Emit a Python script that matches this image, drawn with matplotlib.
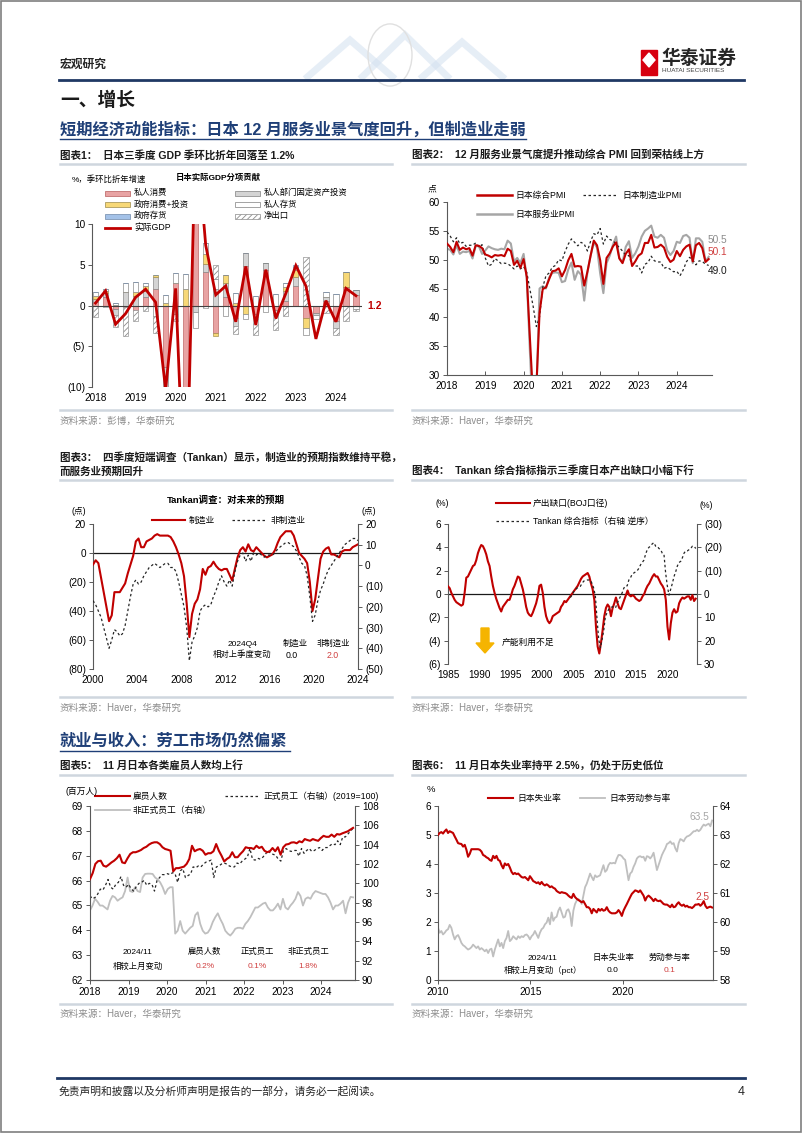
import numpy as np
import matplotlib
matplotlib.use('Agg')
import matplotlib.pyplot as plt
from matplotlib.patches import Rectangle, Polygon, Circle
from matplotlib.ticker import FuncFormatter

# ---------------- data ----------------
# 图表1: 日本实际GDP (季环比折年, %) 及分项贡献, 2018Q1-2024Q3
gdp_years = ['2018', '2019', '2020', '2021', '2022', '2023', '2024']
gdp = [0.3, 1.8, -2.3, -1.0, 1.0, 2.0, 0.4, -10.3, 2.1, -28.0, 22.0, 7.4, 1.3, 2.4,
       -2.0, 4.8, -2.4, 4.4, -1.6, 1.5, 4.9, 2.4, -4.1, 0.6, -2.0, 2.1, 1.2]
c_cons = [0.4, 1.1, -0.4, -0.2, -0.6, 1.0, 2.0, -7.5, 2.8, -19.0, 15.5, 4.1, -3.4, 1.0,
          -1.5, 4.8, -1.0, 4.4, -0.6, 0.6, 2.4, -1.5, -0.9, 0.5, -1.9, 2.3, 1.3]
c_fixed = [0.4, 0.4, -0.8, 1.7, 1.2, 0.8, 1.5, -2.8, -1.0, -5.0, -0.8, 1.0, 2.0, 1.7,
           -1.0, 1.7, -0.4, 0.8, -0.3, 1.2, 1.1, 0.0, -0.3, 0.5, -0.8, 0.0, 0.6]
c_gov = [0.4, 0.3, 0.1, 0.0, 0.5, 0.6, 0.3, 0.3, 0.0, 2.0, 0.5, 1.2, -0.3, 1.0,
         0.3, -1.1, 0.0, 0.0, 0.0, 0.5, 0.8, -1.2, 0.0, 0.0, 0.0, 1.8, 0.0]
c_privinv = [0.5, 0.2, 0.2, 1.0, 1.2, 0.3, -1.3, 1.0, 1.2, 1.9, -2.0, 1.4, 1.3, -1.3,
             1.2, -0.6, 1.2, -0.8, 1.4, 0.5, 0.4, -0.9, -0.5, 0.6, 1.4, 0.0, -0.4]
c_govinv = [0.0] * 20 + [0.3] + [0.0] * 6
c_netexp = [-1.4, -0.2, -1.4, -3.5, -1.3, -0.7, -2.1, -1.3, -0.9, -7.9, 8.8, -0.3, 1.7, 0.0,
            -1.0, 0.0, -2.2, 0.0, -2.1, -1.3, -0.1, 6.0, 0.0, -0.9, -0.9, -1.9, -0.3]

# 图表2: 日本PMI, 2018/01-2024/11
pmi_comp = [52.8, 52.2, 51.3, 53.1, 51.7, 52.1, 51.8, 52.0, 50.7, 52.5, 52.4, 52.0,
            50.9, 50.7, 50.4, 50.8, 50.7, 50.8, 50.6, 51.9, 51.5, 49.1, 49.8, 48.6,
            50.1, 47.0, 36.2, 25.8, 27.8, 40.8, 44.9, 45.2, 46.6, 48.0, 48.1, 48.5,
            47.1, 48.2, 49.9, 51.0, 48.8, 48.9, 48.8, 45.5, 47.9, 50.7, 53.3, 52.5,
            49.9, 45.8, 50.3, 51.1, 52.3, 53.0, 50.2, 49.4, 51.0, 51.8, 48.9, 49.7,
            50.7, 51.1, 52.9, 52.9, 54.3, 52.1, 52.2, 52.6, 52.1, 50.5, 49.6, 50.0,
            51.5, 50.6, 51.7, 52.3, 52.6, 49.7, 52.5, 52.9, 52.0, 49.6, 50.1]
pmi_serv = [51.9, 51.7, 50.9, 52.5, 51.0, 51.4, 51.3, 51.5, 50.2, 52.4, 52.3, 51.0,
            51.6, 52.3, 52.0, 51.8, 51.7, 51.9, 51.8, 53.3, 52.8, 49.7, 50.3, 49.4,
            51.0, 46.8, 33.8, 21.5, 26.5, 45.0, 45.4, 45.0, 46.9, 47.7, 47.8, 47.7,
            46.1, 46.3, 48.3, 49.5, 46.5, 48.0, 47.4, 42.9, 47.8, 50.7, 53.0, 52.1,
            47.6, 44.2, 49.4, 50.7, 52.6, 54.0, 50.3, 49.5, 52.2, 53.2, 50.3, 51.1,
            52.3, 54.0, 55.0, 55.4, 55.9, 54.0, 53.8, 54.3, 53.8, 51.6, 50.8, 51.5,
            53.1, 52.9, 54.1, 54.3, 53.8, 49.4, 53.7, 53.7, 53.1, 49.7, 50.5]
pmi_mfg = [54.8, 54.1, 53.1, 53.8, 52.8, 53.0, 52.3, 52.5, 52.5, 52.9, 52.2, 52.6,
           50.3, 48.9, 49.2, 50.2, 49.8, 49.3, 49.4, 49.3, 48.9, 48.4, 48.9, 48.4,
           48.8, 47.8, 44.8, 41.9, 38.4, 40.1, 45.2, 47.2, 47.7, 48.7, 49.0, 50.0,
           49.8, 51.4, 52.7, 53.6, 53.0, 52.4, 53.0, 52.7, 51.5, 53.2, 54.5, 54.3,
           55.4, 52.7, 54.1, 53.5, 53.3, 52.7, 52.1, 51.5, 50.8, 50.7, 49.0, 48.9,
           48.9, 47.7, 49.2, 49.5, 50.6, 49.8, 49.6, 49.6, 48.5, 48.7, 48.3, 47.9,
           48.0, 47.2, 48.2, 49.6, 50.4, 50.0, 49.1, 49.8, 49.7, 49.2, 49.0]

# 图表3: Tankan 预期DI, 2000Q1-2024Q4
tk_mfg = [-8, -5, -7, -17, -27, -37, -47, -43, -27, -27, -27, -24, -21, -14, -8, -2,
          8, 10, 4, 4, 8, 9, 10, 12, 13, 12, 12, 12, 12, 11, 8, 4,
          -1, -7, -16, -35, -58, -42, -35, -32, -25, -11, -15, -10, -9, -6, -9, -11,
          -12, -11, -11, -15, -19, -11, -3, 2, 4, 1, 6, 2, 1, 4,
          2, 0, -2, -3, -2, -1, 2, 7, 11, 13, 15, 15, 15, 12,
          6, 0, -2, -4, -7, -20, -40, -32, -18, -4, 1, 3, 4, -1, -1, -2,
          -3, 1, 2, 2, 2, 4, 5, 6]
tk_nonmfg = [-17, -19, -22, -25, -30, -35, -40, -36, -31, -32, -34, -33, -29, -22, -15, -9,
             -7, -9, -8, -5, -3, -1, 0, 1, 0, -1, 0, 1, 1, -1, -1, -3,
             -8, -14, -20, -30, -46, -37, -34, -30, -22, -20, -19, -20, -19, -15, -12, -8,
             -5, -8, -10, -7, -10, -3, 2, 5, 6, 2, 5, 2, 6, 5,
             6, 5, 4, 5, 5, 5, 6, 8, 9, 10, 11, 11, 10, 9,
             7, 4, 1, 0, -5, -15, -27, -24, -17, -12, -9, -5, -2, 0, 2, 4,
             6, 8, 10, 11, 12, 13, 13, 12]

# 图表4: 产出缺口 (1985-2024Q3) 与 Tankan 综合指标 (2004H2-)
gap = [0.66, 0.5, 0.1, -0.2, -0.5, -0.7, -0.8, -0.9, -1.0, -0.9, 0.1, 1.4, 1.5, 1.8, 2.1, 2.4,
       2.5, 2.9, 3.5, 3.9, 4.2, 4.1, 3.8, 3.4, 2.8, 2.4, 1.5, 0.7, 0.1, -0.4, -0.8, -1.2,
       -1.5, -1.1, -0.9, -0.7, -0.5, -0.5, -0.1, 0.4, 0.7, 1.1, 1.5, 1.4, 0.9, 0.4, -0.3, -1.1,
       -1.6, -1.8, -1.9, -1.6, -1.2, -0.8, -0.2, 0.7, 0.8, 0.1, -1.1, -1.9, -2.3, -2.5, -2.3, -1.9,
       -1.8, -1.7, -1.6, -1.5, -1.1, -0.9, -0.6, -0.7, -0.5, -0.3, -0.1, 0.1, 0.3, 0.5, 0.7, 1.0,
       1.3, 1.5, 1.6, 1.7, 1.8, 1.5, 0.9, 0.4, -0.5, -2.8, -4.5, -5.1, -4.2, -3.1, -1.9, -1.2,
       -0.9, -1.1, -1.9, -1.2, -0.8, -0.3, -0.8, -1.2, -1.3, -0.9, -0.5, -0.1, 0.3, -0.1, -0.2, -0.1,
       -0.2, -0.4, -0.5, -0.6, -0.5, -0.2, 0.0, 0.4, 0.7, 0.9, 1.2, 1.5, 1.7, 1.5, 1.5, 1.2,
       0.9, 0.7, 0.4, -0.5, -2.8, -3.9, -2.5, -1.6, -1.3, -1.6, -1.5, -0.8, -0.5, -0.3, -0.4, -0.3,
       -0.2, -0.2, -0.5, -0.1, -0.6, -0.4]
tankan_comp = [1.5, 0.5, -1.0, -1.8, -2.5, -3.0, -3.3, -4.5, -5.5, -5.8, -6.0, -6.0, -6.0, -4.5, -2.5, 1.0,
               11, 19.5, 23, 19.5, 15.5, 9.5, 8, 6.5, 6, 5.5, 5.5, 6, 4, 2.5, 1, -0.5,
               -2.5, -3.5, -3.5, -6, -7, -8.5, -9, -9.5, -10, -11, -12.5, -13.5, -14.5, -17, -19, -20,
               -20.5, -21.5, -22, -20.5, -20.5, -19.5, -19, -17.5, -17, -9, -3.5, 0.5, -2, -4.5,
               -7.5, -9.5, -12, -13.5, -14, -15.5, -17.5, -18.5, -18.5, -19, -19.5, -20.5, -20.5, -19.5]

# 图表5: 雇员人数 (百万人, 左) / 正式与非正式员工 (2019=100, 右), 2018/01-2024/11
employees = [66.06, 66.3, 66.67, 66.78, 66.8, 66.6, 66.56, 66.64, 66.73, 66.8, 66.9, 67.04,
             66.73, 66.7, 66.9, 67.07, 67.14, 67.14, 67.18, 67.23, 67.31, 67.36, 67.45, 67.51,
             67.54, 67.54, 67.47, 67.34, 67.27, 67.24, 67.2, 66.37, 66.5, 66.5, 66.53, 66.56,
             66.67, 66.87, 67.4, 67.18, 67.24, 67.27, 67.2, 67.04, 67.1, 67.1, 67.18, 67.47,
             67.2, 67.0, 66.77, 66.87, 66.94, 67.14, 66.94, 66.94, 67.07, 67.18, 67.34, 67.31,
             67.31, 67.27, 67.4, 67.31, 67.36, 67.2, 67.14, 67.18, 67.31, 67.18, 67.34, 67.04,
             67.34, 67.45, 67.47, 67.53, 67.54, 67.5, 67.58, 67.54, 67.67, 67.63, 67.6, 67.67,
             67.63, 67.6, 67.71, 67.8, 67.76, 67.76, 67.85, 67.76, 67.87, 67.85, 67.9, 67.94,
             67.98, 68.05, 68.12]
regular = [98.7, 98.4, 98.55, 98.9, 99.4, 99.3, 99.8, 100.4, 99.6, 99.4, 99.9, 100.1,
           100.7, 99.8, 99.6, 99.9, 99.4, 99.2, 99.7, 100.0, 100.1, 100.3, 99.8, 100.0,
           99.9, 99.2, 100.3, 100.6, 100.9, 100.9, 101.0, 100.9, 101.1, 100.97, 100.1, 101.3,
           101.5, 100.6, 100.8, 100.97, 101.7, 101.6, 101.8, 101.7, 102.0, 102.2, 102.3, 102.4,
           100.6, 101.7, 101.8, 102.0, 102.1, 102.0, 101.8, 101.7, 101.7, 102.1, 102.0, 102.3,
           102.5, 102.7, 103.6, 102.5, 102.4, 102.6, 102.5, 102.7, 103.0, 103.4, 103.1, 103.0,
           102.9, 102.5, 102.3, 103.4, 103.6, 103.4, 103.3, 103.4, 103.4, 102.8, 103.6, 103.1,
           103.4, 103.6, 103.3, 103.4, 103.6, 103.7, 103.4, 103.7, 103.7, 103.9, 104.1, 104.0,
           104.4, 104.0, 104.8, 104.8, 105.1, 105.4, 105.7]
nonregular = [97.2, 97.7, 98.4, 98.1, 97.7, 97.7, 97.5, 97.3, 98.2, 98.7, 98.55, 98.2,
              98.4, 98.55, 99.2, 100.6, 99.2, 99.1, 99.6, 99.2, 99.1, 100.6, 100.97, 101.0,
              101.0, 100.97, 100.6, 100.4, 100.1, 99.6, 98.9, 99.4, 99.6, 99.6, 94.8, 95.1,
              96.1, 95.1, 94.8, 95.1, 95.4, 95.6, 96.7, 97.0, 95.8, 95.1, 94.8, 94.9,
              95.3, 96.0, 96.5, 96.9, 96.3, 95.8, 95.1, 94.8, 94.6, 94.9, 95.3, 95.4,
              95.4, 95.3, 95.8, 96.1, 96.5, 97.0, 97.5, 97.5, 97.7, 97.9, 98.0, 97.5,
              97.2, 97.2, 97.5, 97.9, 97.3, 98.4, 97.5, 97.3, 97.7, 98.0, 98.4, 99.1,
              98.7, 97.7, 98.4, 98.55, 98.4, 98.9, 99.2, 99.1, 99.0, 98.9, 98.9, 98.55,
              98.0, 97.3, 97.7, 97.7, 97.9, 98.2, 96.9, 98.0, 98.6, 98.55]

# 图表6: 日本失业率 (%, 左) / 劳动参与率 (%, 右), 2010/01-2024/11
unemp = [5.0, 5.07, 5.1, 5.05, 5.13, 5.19, 5.07, 5.13, 5.1, 5.07, 4.95, 4.84, 4.72, 4.7, 4.69, 4.6,
         4.66, 4.49, 4.25, 4.35, 4.51, 4.51, 4.51, 4.51, 4.51, 4.49, 4.43, 4.31, 4.28, 4.23, 4.2, 4.14,
         4.11, 4.28, 4.2, 4.28, 4.14, 4.11, 3.96, 3.85, 4.02, 3.96, 4.0, 3.88, 3.73, 3.65, 3.69, 3.65,
         3.67, 3.61, 3.55, 3.53, 3.55, 3.5, 3.44, 3.58, 3.5, 3.41, 3.38, 3.34, 3.37, 3.3, 3.38, 3.3,
         3.26, 3.3, 3.26, 3.2, 3.23, 3.18, 3.15, 3.07, 3.03, 3.0, 3.03, 3.01, 3.0, 2.97, 2.91, 2.86,
         2.83, 2.97, 2.86, 2.8, 2.76, 2.72, 2.68, 2.72, 2.62, 2.51, 2.51, 2.45, 2.3, 2.45, 2.39, 2.33,
         2.45, 2.39, 2.45, 2.39, 2.41, 2.51, 2.39, 2.33, 2.3, 2.3, 2.3, 2.33, 2.41, 2.33, 2.21, 2.39,
         2.51, 2.62, 2.74, 2.86, 2.97, 3.03, 3.09, 3.07, 3.03, 3.09, 3.0, 2.91, 2.74, 2.86, 2.91, 2.86,
         2.8, 2.72, 2.8, 2.74, 2.72, 2.74, 2.68, 2.62, 2.6, 2.6, 2.56, 2.51, 2.6, 2.51, 2.53, 2.62,
         2.68, 2.6, 2.56, 2.6, 2.53, 2.56, 2.51, 2.51, 2.48, 2.53, 2.6, 2.6, 2.62, 2.56, 2.62, 2.72,
         2.56, 2.48, 2.51, 2.53, 2.5]
lfpr = [59.8, 59.63, 59.69, 59.57, 59.63, 59.71, 59.75, 59.9, 59.8, 59.57, 59.4, 59.51, 59.55, 59.43, 59.28, 59.2,
        59.16, 59.1, 59.05, 59.08, 59.13, 59.22, 59.16, 59.1, 59.16, 59.05, 59.1, 59.05, 58.99, 59.05, 58.93, 59.05,
        59.08, 58.81, 59.05, 59.22, 59.4, 59.16, 59.28, 59.1, 59.34, 59.45, 59.69, 59.34, 59.4, 59.51, 59.45, 59.4,
        59.51, 59.45, 59.51, 59.48, 59.55, 59.57, 59.51, 59.4, 59.51, 59.57, 59.69, 59.57, 59.45, 59.63, 59.75, 59.8,
        59.92, 59.98, 60.15, 59.92, 60.33, 60.04, 60.15, 60.18, 60.39, 60.5, 60.33, 60.15, 60.18, 60.39, 60.44, 60.29,
        59.86, 60.39, 60.62, 60.74, 60.79, 60.74, 60.62, 60.91, 61.2, 61.32, 61.49, 61.67, 61.55, 61.44, 61.61, 61.55,
        61.58, 61.61, 61.79, 61.96, 61.73, 61.79, 61.96, 62.04, 62.02, 62.04, 62.02, 62.19, 62.31, 62.31, 62.27, 62.19,
        62.14, 61.79, 61.44, 61.67, 61.73, 61.9, 62.02, 62.19, 62.25, 62.27, 62.23, 62.25, 62.11, 62.27, 62.25, 62.19,
        62.27, 62.39, 62.08, 61.79, 61.96, 62.14, 62.31, 62.43, 62.54, 62.69, 62.72, 62.78, 62.69, 62.72, 62.54, 62.43,
        62.72, 62.86, 62.83, 62.78, 62.89, 62.95, 62.97, 63.01, 63.07, 63.13, 63.13, 63.18, 63.13, 63.18, 63.28, 63.36,
        63.32, 63.36, 63.39, 63.3, 63.5]

# ---------------- page setup ----------------
W, H = 802, 1133
plt.rcParams['font.family'] = ['Liberation Sans', 'Noto Sans CJK SC']
plt.rcParams['axes.unicode_minus'] = False
plt.rcParams['hatch.color'] = '#8c8c8c'
plt.rcParams['hatch.linewidth'] = 0.6

RED = '#c00000'
NAVY = '#1f3864'
GRAY = '#a6a6a6'
SEP = '#cfd6de'

fig = plt.figure(figsize=(8.02, 11.33), dpi=100)


def px_axes(l, t, r, b):
    return fig.add_axes([l / W, 1 - b / H, (r - l) / W, (b - t) / H])


def ftext(x, y, s, **kw):
    kw.setdefault('va', 'center')
    kw.setdefault('fontsize', 6)
    fig.text(x / W, 1 - y / H, s, **kw)


def fline(x0, x1, y0, y1, **kw):
    fig.add_artist(plt.Line2D([x0 / W, x1 / W], [1 - y0 / H, 1 - y1 / H],
                              transform=fig.transFigure, **kw))


def frect(x, y, w, h, **kw):
    fig.add_artist(Rectangle((x / W, 1 - (y + h) / H), w / W, h / H,
                             transform=fig.transFigure, **kw))


def paren(v, pos):
    return f'({abs(v):g})' if v < 0 else f'{v:g}'


def style(ax, spines, fs=7.2):
    for s in ax.spines:
        ax.spines[s].set_visible(s in spines)
        ax.spines[s].set_color('#595959')
        ax.spines[s].set_linewidth(0.8)
    ax.tick_params(labelsize=fs, colors='#595959', labelcolor='black', length=3, width=0.7, pad=2)
    ax.patch.set_alpha(0)


# page frame + header
frect(0.5, 0.5, W - 1.5, H - 1.5, fill=False, edgecolor='#7f7f7f', lw=1.2)
for pts in ([(305, 79), (350, 40), (395, 79)], [(360, 79), (405, 35), (450, 79)],
            [(420, 79), (462, 42), (505, 79)]):
    fig.add_artist(Polygon([(x / W, 1 - y / H) for x, y in pts], closed=False, fill=False,
                           edgecolor='#d3e0f0', lw=5, alpha=0.55, transform=fig.transFigure))
fig.add_artist(Circle((390 / W, 1 - 55 / H), 22 / W, fill=False, edgecolor='#e0e0e0', lw=1,
                      transform=fig.transFigure))
ftext(60, 65, '宏观研究', fontsize=8.5, fontweight='bold', color='#262626')
frect(641, 50, 16, 25, color='#d7000f')
fig.add_artist(Polygon([(649 / W, 1 - 53 / H), (655 / W, 1 - 60 / H), (649 / W, 1 - 67 / H),
                        (643 / W, 1 - 60 / H)], color='white', transform=fig.transFigure))
ftext(661, 59, '华泰证券', fontsize=13.5, fontweight='bold', color='#262626')
ftext(662, 71, 'HUATAI SECURITIES', fontsize=4.6, color='#404040')
fline(59, 744, 80, 80, color=NAVY, lw=2)

ftext(60, 101, '一、增长', fontsize=13.5, fontweight='bold', color='#1a1a1a')
ftext(60, 130, '短期经济动能指标：日本 12 月服务业景气度回升，但制造业走弱', fontsize=11.7,
      fontweight='bold', color='#1f3f77')
fline(60, 526, 139, 139, color='#1f3f77', lw=1)
ftext(60, 741, '就业与收入：劳工市场仍然偏紧', fontsize=11.7, fontweight='bold', color='#1f3f77')
fline(60, 290, 751, 751, color='#1f3f77', lw=1)

titles = [(60, 155, '图表1：  日本三季度 GDP 季环比折年回落至 1.2%'),
          (412, 155, '图表2：  12 月服务业景气度提升推动综合 PMI 回到荣枯线上方'),
          (60, 457, '图表3：  四季度短端调查（Tankan）显示，制造业的预期指数维持平稳，'),
          (60, 472, '而服务业预期回升'),
          (412, 471, '图表4：  Tankan 综合指标指示三季度日本产出缺口小幅下行'),
          (60, 766, '图表5：  11 月日本各类雇员人数均上行'),
          (412, 766, '图表6：  11 月日本失业率持平 2.5%，仍处于历史低位')]
for x, y, s in titles:
    ftext(x, y, s, fontsize=7.6, fontweight='bold', color='#1a1a1a')
for y in (164, 480, 775, 410, 697, 1004):
    fline(60, 392, y, y, color=SEP, lw=1.8)
    fline(412, 745, y, y, color=SEP, lw=1.8)
sources = [(60, 421, '资料来源：彭博，华泰研究'), (412, 421, '资料来源：Haver，华泰研究'),
           (60, 708, '资料来源：Haver，华泰研究'), (412, 708, '资料来源：Haver，华泰研究'),
           (60, 1014, '资料来源：Haver，华泰研究'), (412, 1014, '资料来源：Haver，华泰研究')]
for x, y, s in sources:
    ftext(x, y, s, fontsize=6.9, color='#8c8c8c')

fline(57, 745, 1078, 1078, color=NAVY, lw=2)
ftext(59, 1092, '免责声明和披露以及分析师声明是报告的一部分，请务必一起阅读。', fontsize=7.75,
      style='italic', color='#262626')
ftext(741, 1092, '4', fontsize=9, ha='center', color='#262626')

# ---------------- 图表1 ----------------
ax1 = px_axes(92, 224, 362, 387)
q = np.arange(len(gdp))
comps = [(c_cons, '#e8a3a3', '#b85c5c', None), (c_fixed, '#d4d4d4', '#7f7f7f', None),
         (c_gov, '#f7d877', '#9c8a4a', None), (c_privinv, 'white', '#7f7f7f', None),
         (c_govinv, '#a4c2e8', '#6f88a8', None), (c_netexp, 'white', '#8c8c8c', '//////')]
pos_base = np.zeros(len(q))
neg_base = np.zeros(len(q))
for vals, fc, ec, hatch in comps:
    v = np.array(vals)
    bottom = np.where(v >= 0, pos_base, neg_base)
    ax1.bar(q, v, 0.52, bottom=bottom, color=fc, edgecolor=ec, lw=0.45, hatch=hatch, zorder=2)
    pos_base += np.clip(v, 0, None)
    neg_base += np.clip(v, None, 0)
ax1.axhline(0, color='#404040', lw=0.8, zorder=2.5)
ax1.plot(q, gdp, color=RED, lw=2, zorder=3, solid_joinstyle='miter')
ax1.set_ylim(-10, 10)
ax1.set_xlim(-0.35, 26.6)
ax1.set_yticks(range(-10, 11, 5))
ax1.yaxis.set_major_formatter(FuncFormatter(paren))
ax1.set_xticks(range(0, len(gdp), 4))
ax1.set_xticklabels(gdp_years)
style(ax1, ('left',))
ax1.tick_params(axis='x', length=0, pad=4)
ftext(375, 306, f'{gdp[-1]:.1f}', fontsize=7.5, fontweight='bold', color=RED, ha='center')
ftext(72, 180, '%，季环比折年增速', fontsize=6)
ftext(176, 178, '日本实际GDP分项贡献', fontsize=6, fontweight='bold')
leg1 = [(105, 193, '私人消费', '#e8a3a3', '#b85c5c', None),
        (235, 193, '私人部门固定资产投资', '#d4d4d4', '#7f7f7f', None),
        (105, 204.5, '政府消费+投资', '#f7d877', '#9c8a4a', None),
        (235, 204.5, '私人存货', 'white', '#7f7f7f', None),
        (105, 216, '政府存货', '#a4c2e8', '#6f88a8', None),
        (235, 216, '净出口', 'white', '#8c8c8c', '//////')]
for x, y, s, fc, ec, hatch in leg1:
    frect(x, y - 2.5, 25, 5, facecolor=fc, edgecolor=ec, lw=0.5, hatch=hatch)
    ftext(x + 29, y, s, fontsize=6)
fline(105, 130, 227.5, 227.5, color=RED, lw=2)
ftext(134, 227.5, '实际GDP', fontsize=6.3)

# ---------------- 图表2 ----------------
ax2 = px_axes(447, 202, 712, 375)
mx = 2018 + np.arange(len(pmi_comp)) / 12
ax2.plot(mx, pmi_serv, color=GRAY, lw=1.5, zorder=2)
ax2.plot(mx, pmi_mfg, color='#262626', lw=0.9, ls=(0, (2, 2)), zorder=3)
ax2.plot(mx, pmi_comp, color=RED, lw=1.5, zorder=4)
ax2.set_ylim(30, 60)
ax2.set_xlim(2018, 2024.92)
ax2.set_xticks(range(2018, 2025))
style(ax2, ('left', 'bottom'))
ax2.tick_params(axis='x', direction='in', pad=4)
ftext(428, 189, '点', fontsize=6.3)
fline(477, 512, 195, 195, color=RED, lw=1.8)
ftext(515, 195, '日本综合PMI', fontsize=6.3)
fline(583, 618, 195, 195, color='#262626', lw=0.9, ls=(0, (2, 2)))
ftext(622, 195, '日本制造业PMI', fontsize=6.3)
fline(477, 512, 214, 214, color=GRAY, lw=1.8)
ftext(515, 214, '日本服务业PMI', fontsize=6.3)
ftext(708, 240, f'{pmi_serv[-1]:.1f}', fontsize=7.3, color='#8c8c8c')
ftext(708, 252, f'{pmi_comp[-1]:.1f}', fontsize=7.3, color='#d04040')
ftext(708, 271, f'{pmi_mfg[-1]:.1f}', fontsize=7.3, color='#1a1a1a')

# ---------------- 图表3 ----------------
ax3 = px_axes(93, 524, 358, 669)
tx = np.linspace(2000, 2024, len(tk_mfg))
ax3.axhline(0, color='#1a1a1a', lw=0.9, zorder=1)
ax3.plot(tx, tk_mfg, color=RED, lw=1.5, zorder=3)
ax3.set_ylim(-80, 20)
ax3.set_xlim(2000, 2024)
ax3.set_xticks(range(2000, 2025, 4))
ax3.set_yticks(range(-80, 21, 20))
ax3.yaxis.set_major_formatter(FuncFormatter(paren))
style(ax3, ('left',))
ax3.tick_params(axis='x', length=0, pad=4)
ax3r = ax3.twinx()
ax3r.plot(tx, tk_nonmfg, color='#262626', lw=0.9, ls=(0, (2, 2)), zorder=2)
ax3r.set_ylim(-50, 20)
ax3r.set_yticks(range(-50, 21, 10))
ax3r.yaxis.set_major_formatter(FuncFormatter(paren))
style(ax3r, ('right',))
ftext(226, 500, 'Tankan调查：对未来的预期', fontsize=6.8, fontweight='bold', ha='center')
ftext(71, 511, '(点)', fontsize=6.3)
ftext(362, 512, '(点)', fontsize=6.3)
fline(152, 185, 520, 520, color=RED, lw=1.5)
ftext(189, 520, '制造业', fontsize=6.3)
fline(232, 267, 520, 520, color='#262626', lw=0.9, ls=(0, (2, 2)))
ftext(271, 520, '非制造业', fontsize=6.3)
ftext(242, 644, '2024Q4', fontsize=6, ha='center')
ftext(295, 644, '制造业', fontsize=6, ha='center')
ftext(333, 644, '非制造业', fontsize=6, ha='center')
ftext(242, 655, '相对上季度变动', fontsize=6, ha='center')
ftext(292, 655, '0.0', fontsize=6.3, ha='center')
ftext(333, 655, '2.0', fontsize=6.3, ha='center', color='#d04040')

# ---------------- 图表4 ----------------
ax4 = px_axes(448, 524, 697, 664)
gx = np.linspace(1985, 2024.5, len(gap))
cx = np.linspace(2004.5, 2024.5, len(tankan_comp))
ax4.axhline(0, color='#1a1a1a', lw=0.9, zorder=1)
ax4.plot(gx, gap, color=RED, lw=1.5, zorder=3)
ax4.set_ylim(-6, 6)
ax4.set_xlim(1985, 2024.7)
ax4.set_xticks(range(1985, 2021, 5))
ax4.set_yticks(range(-6, 7, 2))
ax4.yaxis.set_major_formatter(FuncFormatter(paren))
style(ax4, ('left',))
ax4.tick_params(axis='x', length=0, pad=4)
ax4r = ax4.twinx()
ax4r.plot(cx, tankan_comp, color='#262626', lw=0.9, ls=(0, (2, 2)), zorder=2)
ax4r.set_ylim(30, -30)
ax4r.set_yticks(range(-30, 31, 10))
ax4r.yaxis.set_major_formatter(FuncFormatter(paren))
style(ax4r, ('right',))
ftext(435, 504, '(%)', fontsize=6.3)
ftext(700, 506, '(%)', fontsize=6.3)
fline(496, 530, 503, 503, color=RED, lw=1.5)
ftext(533, 503, '产出缺口(BOJ口径)', fontsize=6.3)
fline(496, 530, 521, 521, color='#262626', lw=0.9, ls=(0, (2, 2)))
ftext(533, 521, 'Tankan 综合指标（右轴 逆序）', fontsize=6.3)
fig.add_artist(Polygon([(x / W, 1 - y / H) for x, y in
                        [(481, 628), (489, 628), (489, 643), (494, 643), (485, 653), (476, 643), (481, 643)]],
                       color='#f5b400', transform=fig.transFigure))
ftext(502, 642, '产能利用不足', fontsize=6.3)

# ---------------- 图表5 ----------------
ax5 = px_axes(90, 806, 355, 980)
ex = np.linspace(2018, 2024.83, len(employees))
ax5.plot(ex, employees, color=RED, lw=1.5, zorder=3)
ax5.set_ylim(62, 69)
ax5.set_xlim(2018, 2024.88)
ax5.set_xticks(range(2018, 2025))
style(ax5, ('left', 'bottom'))
ax5r = ax5.twinx()
ax5r.plot(np.linspace(2018, 2024.83, len(nonregular)), nonregular, color='#bfbfbf', lw=1.3, zorder=1)
ax5r.plot(np.linspace(2018, 2024.83, len(regular)), regular, color='#262626', lw=0.9,
          ls=(0, (2, 2)), zorder=2)
ax5r.set_ylim(90, 108)
ax5r.set_yticks(range(90, 109, 2))
style(ax5r, ('right', 'bottom'))
ax5.set_zorder(ax5r.get_zorder() + 1)
ftext(66, 792, '(百万人)', fontsize=6.3)
fline(95, 130, 796, 796, color=RED, lw=1.5)
ftext(133, 796, '雇员人数', fontsize=6.3)
fline(225, 260, 796, 796, color='#262626', lw=0.9, ls=(0, (2, 2)))
ftext(263, 796, '正式员工（右轴）(2019=100)', fontsize=6.3)
fline(95, 130, 810, 810, color='#bfbfbf', lw=1.3)
ftext(133, 810, '非正式员工（右轴）', fontsize=6.3)
ann5 = [(138, '2024/11', '相较上月变动', 'black'), (205, '雇员人数', '0.2%', '#d04040'),
        (257, '正式员工', '0.1%', '#d04040'), (308, '非正式员工', '1.8%', '#d04040')]
for x, top, bot, c in ann5:
    ftext(x, 952, top, fontsize=6, ha='center')
    ftext(x, 967, bot, fontsize=6, ha='center', color=c)

# ---------------- 图表6 ----------------
ax6 = px_axes(438, 806, 713, 980)
ux = np.linspace(2010, 2024.83, len(unemp))
ax6.plot(ux, unemp, color=RED, lw=1.5, zorder=3)
ax6.set_ylim(0, 6)
ax6.set_xlim(2010, 2024.88)
ax6.set_xticks([2010, 2015, 2020])
style(ax6, ('left', 'bottom'))
ax6r = ax6.twinx()
ax6r.plot(np.linspace(2010, 2024.83, len(lfpr)), lfpr, color='#bfbfbf', lw=1.3, zorder=1)
ax6r.set_ylim(58, 64)
style(ax6r, ('right', 'bottom'))
ax6.set_zorder(ax6r.get_zorder() + 1)
ftext(427, 790, '%', fontsize=6.8)
fline(488, 513, 798, 798, color=RED, lw=1.5)
ftext(517, 798, '日本失业率', fontsize=6.3)
fline(580, 605, 798, 798, color='#bfbfbf', lw=1.3)
ftext(609, 798, '日本劳动参与率', fontsize=6.3)
ftext(699, 817, f'{lfpr[-1]:.1f}', fontsize=7.3, color='#a6a6a6', ha='center')
ftext(702, 897, f'{unemp[-1]:.1f}', fontsize=7.3, color='#d04040', ha='center')
ann6 = [(543, '2024/11', '相较上月变动（pct）', 'black'), (613, '日本失业率', '0.0', 'black'),
        (670, '劳动参与率', '0.1', '#d04040')]
for x, top, bot, c in ann6:
    ftext(x, 958, top, fontsize=6, ha='center')
    ftext(x, 970, bot, fontsize=6, ha='center', color=c)

fig.savefig('out.png', dpi=100)
